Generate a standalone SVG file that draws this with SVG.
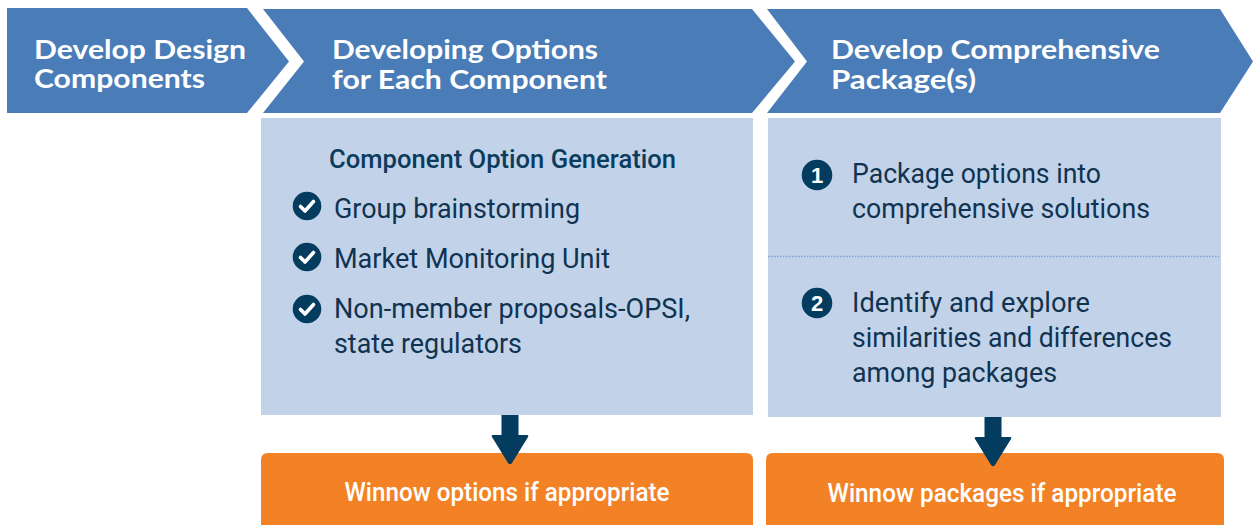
<svg xmlns="http://www.w3.org/2000/svg" width="1253" height="525" viewBox="0 0 1253 525">
<style>
.chev{fill:#4a7cb7}
.panel{fill:#c2d2e9}
.win{fill:#f38226}
.h{font:700 27px Lato,"Liberation Sans",sans-serif;fill:#fff}
.b{font:400 28px Roboto,"Liberation Sans",sans-serif;fill:#0f3350}
.t{font:500 25px Roboto,"Liberation Sans",sans-serif;fill:#0b3c5d}
.w{font:500 25px Roboto,"Liberation Sans",sans-serif;fill:#fff;text-anchor:middle}
.dot{fill:#033c5f}
.n{font:700 22px "Liberation Sans",sans-serif;fill:#fff;text-anchor:middle}
.chk{fill:none;stroke:#fff;stroke-width:3.6;stroke-linecap:round;stroke-linejoin:round}
</style>
<defs>
<g id="check"><circle r="14.3" class="dot"/><path class="chk" d="M-6.5 0.5L-2 5L6.5 -4.5"/></g>
<path id="arrow" class="dot" d="M-8.500 0H8.500V20H17Q19 20 18 22L2 48Q0 50.500 -2 48L-18 22Q-19 20 -17 20H-8.500Z"/>
</defs>
<g id="step1"><path class="chev" d="M7 8H247L289 61.500L247 113H7Z"/>
<text class="h" x="34" y="59" textLength="212" lengthAdjust="spacingAndGlyphs">Develop Design</text>
<text class="h" x="34" y="88" textLength="171" lengthAdjust="spacingAndGlyphs">Components</text></g>
<g id="step2"><path class="chev" d="M263 9H752L795 61.500L752 113H263L304 61.500Z"/>
<text class="h" x="332" y="59" textLength="266" lengthAdjust="spacingAndGlyphs">Developing Options</text>
<text class="h" x="332" y="89" textLength="275" lengthAdjust="spacingAndGlyphs">for Each Component</text></g>
<g id="step3"><path class="chev" d="M767 9H1220L1253 61.500L1220 113H767L807 61.500Z"/>
<text class="h" x="831" y="59" textLength="329" lengthAdjust="spacingAndGlyphs">Develop Comprehensive</text>
<text class="h" x="831" y="89" textLength="145" lengthAdjust="spacingAndGlyphs">Package(s)</text></g>
<g id="panel-options"><rect class="panel" x="261" y="118" width="492" height="297"/>
<text class="t" x="329" y="167.500" textLength="347" lengthAdjust="spacingAndGlyphs">Component Option Generation</text>
<use href="#check" x="307" y="206"/><text class="b" x="334" y="218" textLength="246" lengthAdjust="spacingAndGlyphs">Group brainstorming</text>
<use href="#check" x="307" y="257"/><text class="b" x="334" y="268" textLength="276" lengthAdjust="spacingAndGlyphs">Market Monitoring Unit</text>
<use href="#check" x="307" y="309"/><text class="b" x="334" y="318" textLength="356" lengthAdjust="spacingAndGlyphs">Non-member proposals-OPSI,</text>
<text class="b" x="334" y="353" textLength="188" lengthAdjust="spacingAndGlyphs">state regulators</text></g>
<g id="panel-packages"><rect class="panel" x="768" y="118" width="453" height="299"/>
<path d="M768 256.500H1219" stroke="#7f9fd0" stroke-width="1.500" stroke-dasharray="1.500 1.500" fill="none"/>
<circle class="dot" cx="817" cy="175" r="15.300"/><text class="n" x="817" y="183">1</text>
<text class="b" x="852" y="182.500" textLength="249" lengthAdjust="spacingAndGlyphs">Package options into</text>
<text class="b" x="852" y="218" textLength="298" lengthAdjust="spacingAndGlyphs">comprehensive solutions</text>
<circle class="dot" cx="817" cy="303" r="15.300"/><text class="n" x="817" y="311">2</text>
<text class="b" x="852" y="311.500" textLength="238" lengthAdjust="spacingAndGlyphs">Identify and explore</text>
<text class="b" x="852" y="347" textLength="320" lengthAdjust="spacingAndGlyphs">similarities and differences</text>
<text class="b" x="852" y="381.500" textLength="205" lengthAdjust="spacingAndGlyphs">among packages</text></g>
<g id="winnow-options"><path class="win" d="M261 525V460Q261 453 268 453H746Q753 453 753 460V525Z"/>
<text class="w" x="507" y="501" textLength="325" lengthAdjust="spacingAndGlyphs">Winnow options if appropriate</text></g>
<g id="winnow-packages"><path class="win" d="M766 525V460Q766 453 773 453H1217Q1224 453 1224 460V525Z"/>
<text class="w" x="1002" y="502" textLength="349" lengthAdjust="spacingAndGlyphs">Winnow packages if appropriate</text></g>
<g id="connectors"><use href="#arrow" x="510" y="415"/><use href="#arrow" x="993" y="417"/></g>
</svg>
